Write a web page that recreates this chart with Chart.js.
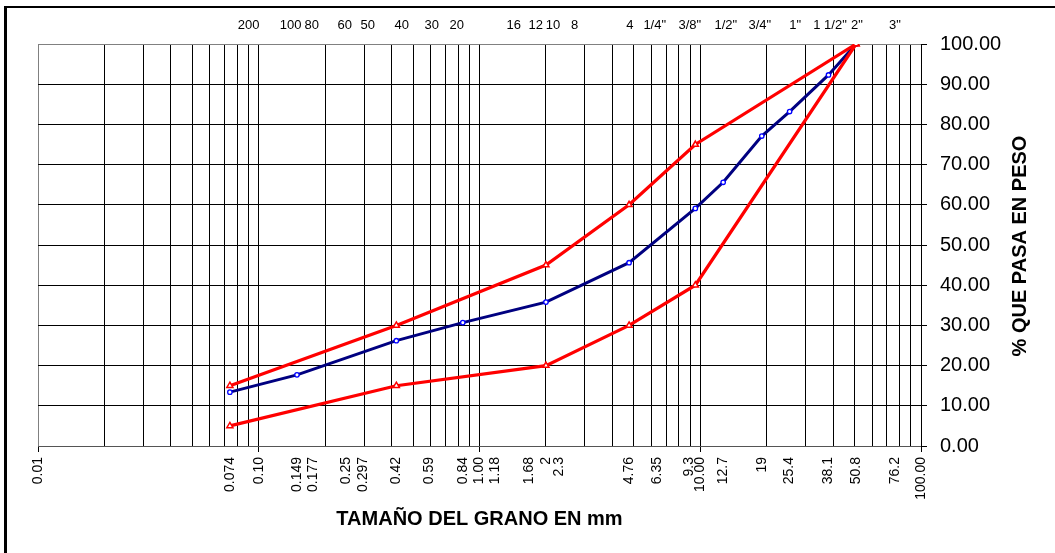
<!DOCTYPE html>
<html>
<head>
<meta charset="utf-8">
<script src="https://cdn.jsdelivr.net/npm/chart.js@4.4.0/dist/chart.umd.min.js"></script>
<style>
  html, body { margin: 0; padding: 0; background: #fff; }
  canvas { display: block; }
</style>
</head>
<body>
<canvas id="grafico" width="1055" height="553"></canvas>
<script>
// Curva granulométrica de la muestra (mm, % que pasa)
const muestraMm   = [0.074, 0.149, 0.42, 0.84, 2, 4.76, 9.5, 12.7, 19, 25.4, 38.1, 50.8];
const muestraPasa = [13.4, 17.7, 26.2, 30.7, 35.8, 45.6, 59.1, 65.6, 77.1, 83.2, 92.3, 100];

// Huso granulométrico (límites)
const husoMm  = [0.074, 0.42, 2, 4.76, 9.5, 50.8];
const husoSup = [15, 30, 45, 60, 75, 100];
const husoInf = [5, 15, 20, 30, 40, 100];

// Etiquetas del eje inferior (posición en mm y texto)
const aberturaMm = [0.01, 0.074, 0.1, 0.149, 0.177, 0.25, 0.297, 0.42, 0.59, 0.84, 1, 1.18, 1.68, 2, 2.3,
  4.76, 6.35, 8.9, 10, 12.7, 19, 25.4, 38.1, 50.8, 76.2, 100];
const aberturaTxt = ['0.01', '0.074', '0.10', '0.149', '0.177', '0.25', '0.297', '0.42', '0.59', '0.84', '1.00',
  '1.18', '1.68', '2', '2.3', '4.76', '6.35', '9.3', '10.00', '12.7', '19', '25.4', '38.1', '50.8', '76.2', '100.00'];

// Etiquetas del eje superior (número de tamiz)
const tamizMm  = [0.09, 0.1395, 0.1737, 0.245, 0.3117, 0.444, 0.6076, 0.789, 1.43, 1.8, 2.15, 2.7,
  4.8, 6.22, 8.97, 13.06, 18.6, 26.9, 38.7, 51.3, 76.2];
const tamizTxt = ['200', '100', '80', '60', '50', '40', '30', '20', '16', '12', '10', '8',
  '4', '1/4"', '3/8"', '1/2"', '3/4"', '1"', '1 1/2"', '2"', '3"'];

const pasaMin = 0, pasaMax = 100, pasaPaso = 10;

// rejilla logarítmica 1..9 x 10^n
const rejilla = [];
for (let e = -2; e <= 1; e++) {
  for (let m = 1; m <= 9; m++) rejilla.push(parseFloat((m * Math.pow(10, e)).toPrecision(6)));
}
rejilla.push(100);

const clave = v => Number(v).toPrecision(6);
const enRejilla = new Set(rejilla.map(clave));
const etiquetaDe = new Map(aberturaMm.map((v, i) => [clave(v), aberturaTxt[i]]));
const valoresX = Array.from(new Set(rejilla.concat(aberturaMm).map(clave))).map(Number).sort((a, b) => a - b);
const esDecada = v => Math.abs(Math.log10(v) - Math.round(Math.log10(v))) < 1e-9;

const fuente = "'Liberation Sans', Arial, sans-serif";
const puntos = (mm, pasa) => mm.map((x, i) => ({ x: x, y: pasa[i] }));

const marco = {
  id: 'marco',
  beforeDraw(chart) {
    const c = chart.ctx;
    c.save();
    c.fillStyle = '#fff';
    c.fillRect(0, 0, chart.width, chart.height);
    c.fillStyle = '#000';
    c.fillRect(4, 6, chart.width - 4, 2);
    c.fillRect(4, 6, 3, chart.height - 6);
    c.restore();
  },
  afterDraw(chart) {
    const c = chart.ctx;
    c.save();
    c.translate(chart.width - 34.5, 246);
    c.rotate(-Math.PI / 2);
    c.font = 'bold 20px ' + fuente;
    c.fillStyle = '#000';
    c.textAlign = 'center';
    c.textBaseline = 'middle';
    c.fillText('% QUE PASA EN PESO', 0, 0);
    c.restore();
  }
};

new Chart(document.getElementById('grafico'), {
  type: 'line',
  data: {
    datasets: [
      {
        label: 'Límite superior',
        data: puntos(husoMm, husoSup),
        borderColor: '#ff0000',
        borderWidth: 3.2,
        pointStyle: 'triangle',
        pointRadius: 3.5,
        pointBorderWidth: 1.5,
        pointBackgroundColor: '#fff',
        pointBorderColor: '#ff0000',
        tension: 0
      },
      {
        label: 'Límite inferior',
        data: puntos(husoMm, husoInf),
        borderColor: '#ff0000',
        borderWidth: 3.2,
        pointStyle: 'triangle',
        pointRadius: 3.5,
        pointBorderWidth: 1.5,
        pointBackgroundColor: '#fff',
        pointBorderColor: '#ff0000',
        tension: 0
      },
      {
        label: 'Muestra',
        data: puntos(muestraMm, muestraPasa),
        borderColor: '#000080',
        borderWidth: 3,
        pointStyle: 'circle',
        pointRadius: 2.2,
        pointBorderWidth: 1.3,
        pointBackgroundColor: '#fff',
        pointBorderColor: '#0000ff',
        tension: 0
      }
    ]
  },
  options: {
    responsive: false,
    animation: false,
    devicePixelRatio: 1,
    layout: { padding: { left: 38, right: 0, top: 0, bottom: 0 } },
    plugins: {
      legend: { display: false },
      tooltip: { enabled: false }
    },
    scales: {
      x: {
        type: 'logarithmic',
        position: 'bottom',
        min: 0.01,
        max: 100,
        afterBuildTicks: s => { s.ticks = valoresX.map(v => ({ value: v })); },
        afterFit: s => { s.height = 107; },
        grid: {
          color: ctx => {
            const v = ctx.tick ? ctx.tick.value : 0;
            if (!enRejilla.has(clave(v))) return 'rgba(0,0,0,0)';
            return clave(v) === clave(0.01) ? '#808080' : '#000';
          },
          tickColor: ctx => (ctx.tick && esDecada(ctx.tick.value)) ? '#000' : 'rgba(0,0,0,0)',
          tickLength: 6,
          lineWidth: 1
        },
        border: { display: true, color: '#555', width: 1 },
        ticks: {
          autoSkip: false,
          minRotation: 90,
          maxRotation: 90,
          padding: 5,
          color: '#000',
          font: { family: fuente, size: 14 },
          callback: v => etiquetaDe.get(clave(v)) || ''
        },
        title: {
          display: true,
          text: 'TAMAÑO DEL GRANO EN mm',
          color: '#000',
          font: { family: fuente, size: 20, weight: 'bold' },
          padding: { top: 0, bottom: 22 }
        }
      },
      x2: {
        type: 'logarithmic',
        position: 'top',
        min: 0.01,
        max: 100,
        afterBuildTicks: s => { s.ticks = tamizMm.map(v => ({ value: v })); },
        afterFit: s => { s.height = 44; },
        grid: { display: false, drawTicks: false },
        border: { display: false },
        ticks: {
          autoSkip: false,
          maxRotation: 0,
          padding: 11,
          color: '#000',
          font: { family: fuente, size: 13 },
          callback: (v, i) => tamizTxt[i]
        }
      },
      y: {
        position: 'right',
        min: pasaMin,
        max: pasaMax,
        afterFit: s => { s.width = 134; },
        grid: {
          color: ctx => {
            const v = ctx.tick ? ctx.tick.value : 0;
            if (v === pasaMax) return '#808080';
            if (v === pasaMin) return '#555';
            return '#000';
          },
          tickColor: '#000',
          tickLength: 6
        },
        border: { display: true, color: '#000', width: 1 },
        ticks: {
          stepSize: pasaPaso,
          padding: 13,
          color: '#000',
          font: { family: fuente, size: 20 },
          callback: v => Number(v).toFixed(2)
        }
      }
    }
  },
  plugins: [marco]
});
</script>
</body>
</html>
